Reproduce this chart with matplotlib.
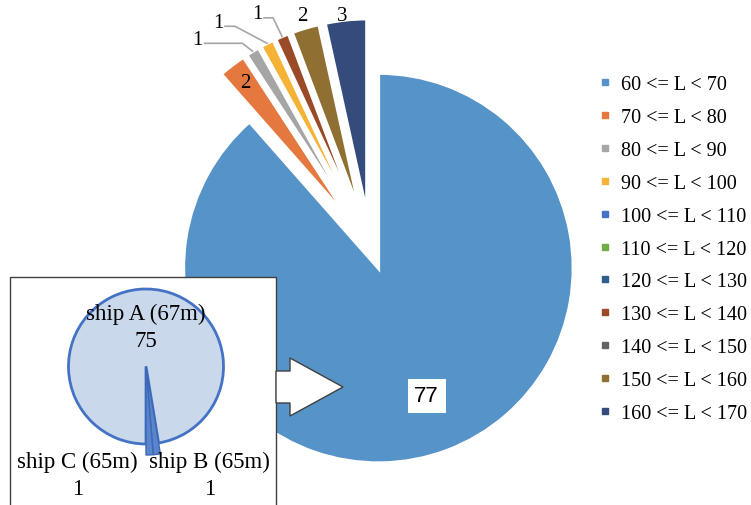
import matplotlib
matplotlib.use("Agg")
from matplotlib import pyplot as plt
from matplotlib import patches
from matplotlib.lines import Line2D
import numpy as np

plt.rcParams['font.family'] = ['Liberation Serif', 'DejaVu Serif']

# ship length classes and number of calls in each
length_bins = ["60 <= L < 70", "70 <= L < 80", "80 <= L < 90", "90 <= L < 100",
               "100 <= L < 110", "110 <= L < 120", "120 <= L < 130",
               "130 <= L < 140", "140 <= L < 150", "150 <= L < 160",
               "160 <= L < 170"]
ship_counts = [77, 2, 1, 1, 0, 0, 0, 1, 0, 2, 3]
bin_colors = ['#5593c9', '#e5783f', '#a5a5a5', '#f5b335', '#4472c4', '#70ad47',
              '#2f5e8e', '#9a4a26', '#636363', '#8f6f32', '#344b7b']

# breakdown of the 60-70 m class
ship_names = ["ship A (67m)", "ship B (65m)", "ship C (65m)"]
ship_calls = [75, 1, 1]

W, H = 751, 506
fig = plt.figure(figsize=(W / 100, H / 100), dpi=100)
ax = fig.add_axes([0, 0, 1, 1])

# main pie (explode is in data units here, i.e. pixels)
R = 195
centre = (370.6, H - 248.5)
explode = [22] + [34] * (len(ship_counts) - 1)
wedges, _ = ax.pie(ship_counts, colors=bin_colors, startangle=90, counterclock=False,
                   radius=R, center=centre, explode=explode, frame=True,
                   wedgeprops=dict(edgecolor='white', linewidth=2.5))


def bisector(w):
    a = np.deg2rad((w.theta1 + w.theta2) / 2)
    return np.array([np.cos(a), np.sin(a)])


# big slice label in a white box
d = bisector(wedges[0])
p = np.array(wedges[0].center) + 0.70 * R * d
ax.text(p[0], p[1], str(ship_counts[0]), ha='center', va='center', fontsize=16,
        family='Liberation Sans', zorder=5,
        bbox=dict(boxstyle='square,pad=0.3', fc='white', ec='none'))

# orange slice label sits inside the slice
d = bisector(wedges[1])
p = np.array(wedges[1].center) + 0.89 * R * d
ax.text(p[0], p[1], str(ship_counts[1]), ha='center', va='center', fontsize=15, zorder=5)

# outside labels: offset from outer arc midpoint, elbow of the leader line
outside = {2: ((-55, 12), 45), 3: ((-49, 21), 17), 7: ((-25, 22.5), 16),
           9: ((-3, 12), None), 10: ((-4, 4.5), None)}
for i, (off, elbow) in outside.items():
    w = wedges[i]
    tip = np.array(w.center) + R * bisector(w)
    lx, ly = tip[0] + off[0], tip[1] + off[1]
    ax.text(lx, ly, str(ship_counts[i]), ha='center', va='center', fontsize=15, zorder=5)
    if elbow is not None:
        ax.plot([lx + 7, lx + elbow, tip[0]], [ly - 4, ly - 4, tip[1]],
                color='#a6a6a6', lw=1.2, zorder=4)

# inset box with the per-ship pie
ax.add_patch(patches.Rectangle((10, -5), 266, H - 278 + 5, fc='white', ec='#404040',
                               lw=1, zorder=3))
inset_c = (146, H - 367.5)
inset_r = 77.5
iw, _ = ax.pie(ship_calls, radius=inset_r, center=inset_c, startangle=-90,
               counterclock=False, frame=True,
               colors=['#cad8ec', '#5a84cc', '#5a84cc'],
               wedgeprops=dict(edgecolor='#4472c4', linewidth=2, zorder=4))
for w in iw[1:]:
    w.set_radius(inset_r + 11)
    w.set_edgecolor('#3c68b5')
    w.set_linewidth(1)

ax.text(inset_c[0], H - 328, f"{ship_names[0]}\n{ship_calls[0]}", ha='center',
        va='center', fontsize=16.5, linespacing=1.4, zorder=6)
ax.text(77.5, H - 476, f"{ship_names[2]}\n{ship_calls[2]}", ha='center',
        va='center', fontsize=16.5, linespacing=1.4, zorder=6)
ax.text(209.7, H - 476, f"{ship_names[1]}\n{ship_calls[1]}", ha='center',
        va='center', fontsize=16.5, linespacing=1.4, zorder=6)

# block arrow from the inset to the 60-70 slice
ax.add_patch(patches.FancyArrow(276, H - 388, 67, 0, width=32, head_width=58,
                                head_length=53, length_includes_head=True,
                                fc='white', ec='#404040', lw=1, zorder=4))

handles = [Line2D([], [], marker='s', ls='none', color=c, markersize=5) for c in bin_colors]
ax.legend(handles, length_bins, loc='upper left', bbox_to_anchor=(599, H - 76),
          bbox_transform=ax.transData, frameon=False, fontsize=14.5,
          labelspacing=0.685, handlelength=0.6, handletextpad=0.5,
          borderpad=0, borderaxespad=0)

ax.set_xlim(0, W)
ax.set_ylim(0, H)
ax.set_aspect('equal')
ax.axis('off')

fig.savefig('out.png', dpi=100)
